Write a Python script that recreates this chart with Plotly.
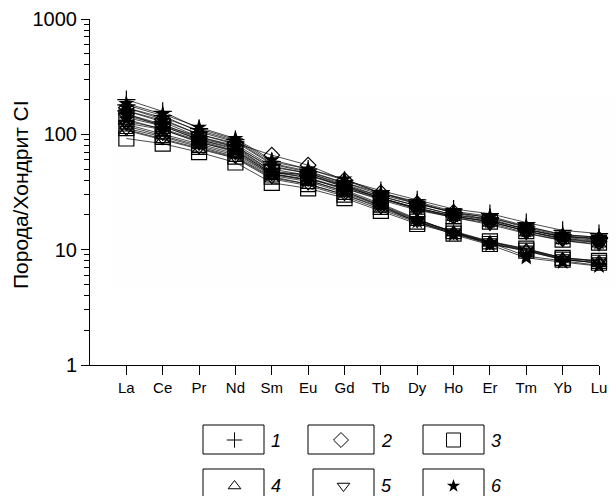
import plotly.graph_objects as go

# Chondrite-normalised REE patterns
elements = ["La", "Ce", "Pr", "Nd", "Sm", "Eu", "Gd", "Tb", "Dy", "Ho", "Er", "Tm", "Yb", "Lu"]

# group 1 (+)
group1 = [
    [200, 158, 112, 90, 58, 50, 40, 32.5, 27, 22.5, 20.5, 17.2, 14.7, 13.8],
    [180, 145, 105, 86, 55, 47, 38, 31, 25.5, 21, 19, 15.8, 13.5, 12.8],
    [160, 128, 95, 80, 50, 44, 36, 29, 24, 20, 18.5, 15, 13, 12.5],
]
# group 2 (diamond)
group2 = [
    [170, 135, 100, 84, 66, 54, 40, 31, 25, 21, 18, 15, 13, 12.3],
    [150, 122, 92, 78, 52, 46, 36, 28, 23, 19.5, 17.5, 14.5, 12.5, 11.8],
]
# group 3 (square)
group3 = [
    [140, 118, 90, 74, 47, 42, 34, 27.5, 22.5, 19.5, 17.5, 14.5, 12.2, 11.5],
    [113, 95, 78, 64, 43, 37, 30, 23.5, 17.5, 14.5, 11.8, 10.2, 8.5, 8.0],
    [92, 83, 70, 57, 38, 34, 28, 21.7, 16.7, 13.8, 11.2, 9.8, 8.2, 7.7],
]
# group 4 (triangle up)
group4 = [
    [130, 112, 88, 72, 46, 45, 35, 28, 22.5, 19, 17, 14, 12, 11.2],
    [118, 97, 80, 66, 44, 39, 31, 24, 18, 14.2, 11.6, 10, 8.4, 7.9],
    [108, 90, 74, 62, 41, 36, 29, 22.5, 17.2, 14, 11.4, 9.9, 8.3, 7.6],
]
# group 5 (triangle down)
group5 = [
    [125, 110, 86, 70, 45, 41, 34, 27, 22, 19, 16.5, 13.8, 12, 11],
    [122, 100, 82, 68, 45, 40, 32, 24.5, 18.2, 14.3, 11.7, 10.1, 8.5, 8.0],
    [110, 92, 76, 63, 42, 37, 30, 23, 17.5, 13.9, 11.3, 9.7, 8.2, 7.7],
]
# group 6 (star)
group6 = [
    [185, 150, 115, 92, 60, 50, 41, 31, 26, 21.5, 19.5, 16, 13.5, 12.8],
    [170, 140, 108, 88, 56, 48, 38, 30, 25, 21, 19, 15.5, 13.2, 12.5],
    [160, 132, 100, 82, 53, 46, 37, 29, 24, 20, 18, 15, 12.8, 12],
    [145, 120, 95, 78, 48, 44, 35, 28, 23, 19.5, 17.5, 14.5, 12.5, 11.5],
    [150, 118, 90, 76, 48, 42, 33, 25, 18.5, 14, 11.5, 8.8, 8.0, 7.3],
    [135, 110, 85, 72, 46, 40, 32, 24, 17.5, 13.5, 11, 8.5, 7.8, 7.2],
]

legend_labels = ["1", "2", "3", "4", "5", "6"]
y_tick_values = [1, 10, 100, 1000]
y_tick_text = ["1", "10", "100", "1000"]
y_title = "Порода/Хондрит CI"

FONT = "Arial, Liberation Sans, sans-serif"

# marker style per group: (symbol, plot size, legend size, filled)
styles = [
    ("cross-thin-open", 13, 11, False),
    ("diamond-open", 12, 11.5, False),
    ("square-open", 15, 14, False),
    ("triangle-up-open", 12, 11, False),
    ("triangle-down-open", 12, 11, False),
    ("star", 12, 10, True),
]
groups = [group1, group2, group3, group4, group5, group6]

fig = go.Figure()

for grp, (sym, size, _, filled) in zip(groups, styles):
    for vals in grp:
        fig.add_trace(go.Scatter(
            x=elements, y=vals, mode="lines+markers",
            line=dict(color="black", width=0.7),
            marker=dict(symbol=sym, size=size, color="black",
                        line=dict(color="black", width=0 if filled else 1.2)),
            cliponaxis=False, showlegend=False, hoverinfo="skip",
        ))

# legend panel drawn on a helper axis (pixel-like coordinates)
box_x = [(203, 264), (308, 374), (423, 484), (203, 264), (313, 374), (423, 484)]
box_y = [(425, 454), (425, 454), (425, 454), (469, 499), (469, 499), (469, 499)]
shapes = []
for i, (sym, _, lsize, filled) in enumerate(styles):
    x0, x1 = box_x[i]
    y0, y1 = box_y[i]
    shapes.append(dict(type="rect", xref="x2", yref="y2", x0=x0, x1=x1, y0=y0, y1=y1,
                       line=dict(color="black", width=1), fillcolor="rgba(0,0,0,0)"))
    cy = 440 if i < 3 else 486
    fig.add_trace(go.Scatter(
        x=[(x0 + x1) / 2 + (1 if i in (0, 3) else 0)], y=[cy], mode="markers",
        xaxis="x2", yaxis="y2",
        marker=dict(symbol=sym, size=lsize, color="black",
                    line=dict(color="black", width=0 if filled else 1)),
        cliponaxis=False, showlegend=False, hoverinfo="skip",
    ))

annotations = []
for i, lab in enumerate(legend_labels):
    x1 = box_x[i][1]
    cy = 441 if i < 3 else 486
    annotations.append(dict(xref="x2", yref="y2", x=x1 + 5, y=cy, text=lab,
                            showarrow=False, xanchor="left", yanchor="middle",
                            font=dict(family=FONT, size=18, color="black", style="italic")))

# y-axis title
H = 496
plot_h = H - 19
annotations.append(dict(xref="paper", yref="paper", x=(20 - 90) / 509, y=(H - 195) / plot_h,
                        text=y_title, textangle=-90, showarrow=False,
                        xanchor="center", yanchor="middle",
                        font=dict(family=FONT, size=21, color="black")))

# faint plot backdrop
shapes.append(dict(type="rect", xref="paper", yref="paper", layer="below",
                   x0=(111 - 90) / 509, x1=(616 - 90) / 509,
                   y0=(H - 288) / plot_h, y1=(H - 97) / plot_h,
                   line=dict(width=0), fillcolor="rgb(254,254,254)"))

minor_vals = [m * 10 ** d for d in range(3) for m in range(2, 10)]

fig.update_layout(
    template="none",
    width=616, height=496,
    margin=dict(l=90, r=17, t=19, b=0, pad=0, autoexpand=False),
    paper_bgcolor="white", plot_bgcolor="rgba(0,0,0,0)",
    shapes=shapes, annotations=annotations,
    xaxis=dict(type="category", range=[-1, 13], domain=[0, 1], anchor="y",
               automargin=False,
               showline=True, linecolor="black", linewidth=1,
               ticks="outside", ticklen=9, tickcolor="black", tickwidth=1,
               showgrid=False, zeroline=False,
               tickfont=dict(family=FONT, size=15, color="black")),
    yaxis=dict(type="log", range=[0, 3], domain=[(H - 365) / plot_h, 1], anchor="x",
               automargin=False,
               showline=True, linecolor="black", linewidth=1,
               ticks="outside", ticklen=8, tickcolor="black", tickwidth=1,
               tickvals=y_tick_values, ticktext=y_tick_text,
               minor=dict(tickvals=minor_vals, ticks="outside", ticklen=5,
                          tickcolor="black", tickwidth=1, showgrid=False),
               showgrid=False, zeroline=False,
               tickfont=dict(family=FONT, size=20, color="black")),
    xaxis2=dict(domain=[0, 1], range=[90, 599], anchor="y2", visible=False,
                fixedrange=True, automargin=False),
    yaxis2=dict(domain=[0, (H - 400) / plot_h], range=[H, 400], anchor="x2",
                visible=False, fixedrange=True, automargin=False),
)

fig.write_html("out.html")
